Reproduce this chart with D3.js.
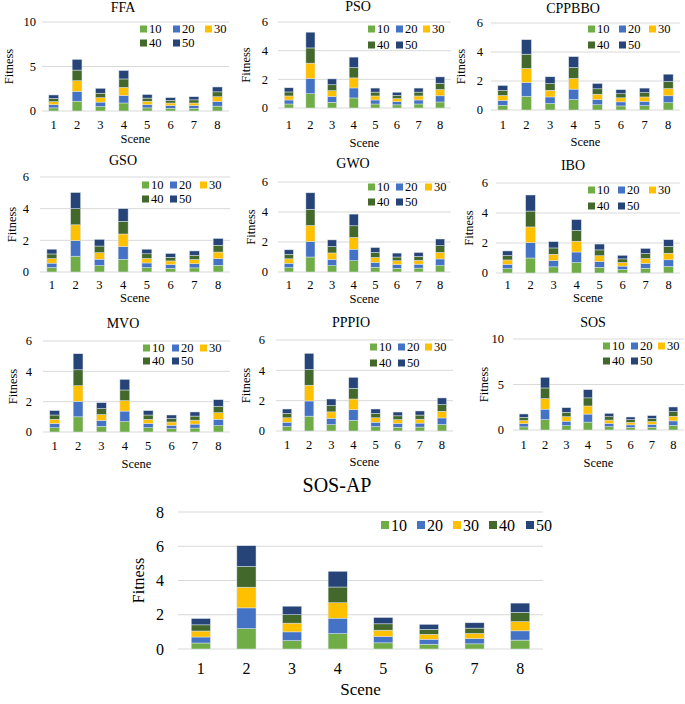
<!DOCTYPE html>
<html><head><meta charset="utf-8">
<script src="https://cdn.jsdelivr.net/npm/d3@7"></script>
<style>
body{margin:0;background:#fff}
svg{display:block}
svg text{font-family:"Liberation Serif","Times New Roman",serif;fill:#000}
</style>
</head><body>
<svg id="c" width="685" height="704" font-family="Liberation Serif, Times New Roman, serif"></svg>
<script>
const scenes = ["1","2","3","4","5","6","7","8"];
const seriesKeys = ["10","20","30","40","50"];
const seriesColors = ["#70AD47","#4472C4","#FFC000","#43682B","#264478"];

// each array: rows = series 10,20,30,40,50 ; columns = scenes 1..8
const FFA = [
  [0.35,1.10,0.50,0.90,0.35,0.30,0.30,0.55],
  [0.35,1.10,0.50,0.85,0.35,0.30,0.30,0.50],
  [0.35,1.20,0.50,0.90,0.40,0.30,0.30,0.55],
  [0.35,1.20,0.50,0.95,0.35,0.30,0.35,0.55],
  [0.40,1.20,0.55,0.95,0.40,0.30,0.35,0.55]];
const PSO = [
  [0.28,1.00,0.40,0.70,0.28,0.22,0.28,0.42],
  [0.28,1.05,0.40,0.70,0.28,0.22,0.28,0.43],
  [0.28,1.08,0.41,0.70,0.28,0.22,0.28,0.44],
  [0.28,1.06,0.41,0.72,0.27,0.22,0.27,0.44],
  [0.29,1.10,0.41,0.73,0.28,0.22,0.28,0.44]];
const CPPBBO = [
  [0.33,0.95,0.45,0.72,0.36,0.28,0.30,0.50],
  [0.33,0.95,0.45,0.72,0.36,0.28,0.30,0.48],
  [0.34,0.97,0.46,0.74,0.37,0.28,0.30,0.50],
  [0.34,0.98,0.46,0.75,0.37,0.28,0.30,0.49],
  [0.35,1.00,0.47,0.75,0.37,0.28,0.31,0.50]];
const GSO = [
  [0.28,1.00,0.40,0.80,0.28,0.23,0.26,0.42],
  [0.28,0.98,0.41,0.80,0.29,0.23,0.26,0.42],
  [0.29,1.00,0.41,0.80,0.29,0.24,0.27,0.42],
  [0.29,1.02,0.42,0.80,0.29,0.23,0.27,0.43],
  [0.30,1.02,0.42,0.80,0.29,0.24,0.27,0.43]];
const GWO = [
  [0.29,1.00,0.42,0.75,0.32,0.25,0.26,0.43],
  [0.29,1.03,0.42,0.77,0.32,0.25,0.26,0.44],
  [0.30,1.07,0.43,0.78,0.33,0.25,0.26,0.44],
  [0.30,1.08,0.43,0.78,0.33,0.25,0.26,0.44],
  [0.30,1.10,0.44,0.78,0.33,0.26,0.26,0.45]];
const IBO = [
  [0.29,1.00,0.41,0.70,0.38,0.23,0.32,0.44],
  [0.29,1.02,0.42,0.70,0.38,0.23,0.32,0.44],
  [0.29,1.05,0.42,0.72,0.39,0.24,0.33,0.44],
  [0.30,1.06,0.42,0.72,0.39,0.24,0.33,0.45],
  [0.30,1.07,0.42,0.72,0.39,0.24,0.34,0.45]];
const MVO = [
  [0.28,1.00,0.38,0.69,0.28,0.22,0.26,0.42],
  [0.28,1.02,0.38,0.69,0.28,0.22,0.26,0.42],
  [0.28,1.03,0.39,0.69,0.28,0.22,0.26,0.43],
  [0.28,1.05,0.39,0.70,0.28,0.23,0.27,0.43],
  [0.29,1.06,0.39,0.70,0.29,0.23,0.27,0.43]];
const PPPIO = [
  [0.29,0.98,0.42,0.70,0.29,0.25,0.26,0.43],
  [0.29,1.00,0.42,0.70,0.29,0.25,0.26,0.43],
  [0.29,1.04,0.42,0.71,0.29,0.25,0.26,0.44],
  [0.29,1.04,0.42,0.71,0.29,0.25,0.27,0.44],
  [0.29,1.06,0.43,0.72,0.29,0.25,0.27,0.44]];
const SOS = [
  [0.34,1.14,0.48,0.87,0.36,0.28,0.31,0.50],
  [0.35,1.15,0.49,0.88,0.36,0.28,0.31,0.50],
  [0.35,1.16,0.49,0.89,0.37,0.29,0.32,0.51],
  [0.36,1.17,0.49,0.89,0.37,0.29,0.32,0.51],
  [0.36,1.17,0.50,0.90,0.37,0.29,0.32,0.51]];
const SOSAP = [
  [0.35,1.19,0.49,0.90,0.36,0.28,0.30,0.52],
  [0.35,1.21,0.51,0.90,0.37,0.29,0.30,0.54],
  [0.35,1.21,0.51,0.90,0.37,0.29,0.31,0.54],
  [0.36,1.21,0.49,0.92,0.37,0.29,0.31,0.54],
  [0.37,1.21,0.50,0.92,0.37,0.29,0.31,0.54]];

const ticks10 = [0,5,10];
const ticks6 = [0,2,4,6];
const ticks8 = [0,2,4,6,8];

const svg = d3.select("#c");
const FONT = "Liberation Serif, Times New Roman, serif";

const panels = [
 {title:"FFA", data:FFA, yMax:10, ticks:ticks10, L:42, R:229, T:22, B:111, tX:123, tY:12, tickX:36, fitX:9, labY:129, scY:143, legX:[140,173,205], legY:[29,43]},
 {title:"PSO", data:PSO, yMax:6, ticks:ticks6, L:278, R:451, T:22, B:108, tX:358, tY:11, tickX:268, fitX:246, labY:129, scY:147, legX:[368,396,423], legY:[29,45]},
 {title:"CPPBBO", data:CPPBBO, yMax:6, ticks:ticks6, L:491, R:680, T:23, B:110, tX:573, tY:13, tickX:483, fitX:461, labY:129, scY:146, legX:[588,619,649], legY:[29,45]},
 {title:"GSO", data:GSO, yMax:6, ticks:ticks6, L:40, R:230, T:177, B:272, tX:123, tY:165, tickX:29, fitX:12, labY:289, scY:302, legX:[142,170,200], legY:[185,199]},
 {title:"GWO", data:GWO, yMax:6, ticks:ticks6, L:278, R:451, T:182, B:272, tX:353, tY:168, tickX:268, fitX:251, labY:289, scY:303, legX:[368,396,425], legY:[187,202]},
 {title:"IBO", data:IBO, yMax:6, ticks:ticks6, L:496, R:680, T:183, B:273, tX:573, tY:170, tickX:488, fitX:469, labY:289, scY:302, legX:[588,618,649], legY:[190,206]},
 {title:"MVO", data:MVO, yMax:6, ticks:ticks6, L:43, R:230, T:341, B:432, tX:123, tY:328, tickX:32, fitX:13, labY:450, scY:468, legX:[143,172,200], legY:[348,361]},
 {title:"PPPIO", data:PPPIO, yMax:6, ticks:ticks6, L:276, R:453, T:340, B:431, tX:351, tY:327, tickX:265, fitX:246, labY:449, scY:466, legX:[370,398,425], legY:[347,363]},
 {title:"SOS", data:SOS, yMax:10, ticks:ticks10, L:513, R:684, T:339, B:430, tX:593, tY:327, tickX:504, fitX:484, labY:449, scY:467, legX:[603,631,658], legY:[346,361]},
 {title:"SOS-AP", data:SOSAP, yMax:8, ticks:ticks8, L:178, R:543, T:512, B:649, tX:337, tY:492, tickX:164, fitX:138, labY:674, scY:695, legX:[381,417,453,489,526], legY:[525], big:true}
];

panels.forEach(p => {
  const big = !!p.big;
  const fs = big ? 16 : 12.5;
  const g = svg.append("g").attr("font-family", FONT);
  const x = d3.scaleBand().domain(scenes).range([p.L, p.R]).paddingInner(0.58).paddingOuter(0.29);
  const y = d3.scaleLinear().domain([0, p.yMax]).range([p.B, p.T]);

  // gridlines
  g.append("g").selectAll("line").data(p.ticks).join("line")
    .attr("x1", p.L).attr("x2", p.R)
    .attr("y1", d => y(d)).attr("y2", d => y(d))
    .attr("stroke", "#d9d9d9").attr("stroke-width", 1);

  // y tick labels
  g.append("g").selectAll("text").data(p.ticks).join("text")
    .attr("x", p.tickX).attr("y", d => y(d)).attr("dy", "0.35em")
    .attr("text-anchor", "end").attr("font-size", fs).attr("font-family", FONT)
    .text(d => d);

  // stacked bars
  const rows = scenes.map((s, i) => {
    const o = {scene: s};
    seriesKeys.forEach((k, j) => o[k] = p.data[j][i]);
    return o;
  });
  const stacked = d3.stack().keys(seriesKeys)(rows);
  g.append("g").selectAll("g").data(stacked).join("g")
    .attr("fill", (d, i) => seriesColors[i])
    .selectAll("rect").data(d => d).join("rect")
    .attr("x", d => x(d.data.scene))
    .attr("width", x.bandwidth())
    .attr("y", d => y(d[1]))
    .attr("height", d => y(d[0]) - y(d[1]))
    .attr("stroke", "#dde4ec").attr("stroke-width", 0.5);

  // x labels
  g.append("g").selectAll("text").data(scenes).join("text")
    .attr("x", d => x(d) + x.bandwidth() / 2).attr("y", p.labY)
    .attr("text-anchor", "middle").attr("font-size", fs).attr("font-family", FONT)
    .text(d => d);

  // axis titles
  g.append("text").attr("x", (p.L + p.R) / 2).attr("y", p.scY)
    .attr("text-anchor", "middle").attr("font-size", big ? 17 : 12.5).attr("font-family", FONT).text("Scene");
  g.append("text")
    .attr("transform", `translate(${p.fitX},${(p.T + p.B) / 2}) rotate(-90)`)
    .attr("text-anchor", "middle").attr("dominant-baseline", "central")
    .attr("font-size", big ? 16 : 12.5).attr("font-family", FONT).text("Fitness");

  // chart title
  g.append("text").attr("x", p.tX).attr("y", p.tY)
    .attr("text-anchor", "middle").attr("font-size", big ? 20 : 14).attr("font-family", FONT).text(p.title);

  // legend
  const sq = big ? 8 : 7;
  const items = seriesKeys.map((k, i) => {
    if (big) return {k, i, x: p.legX[i], y: p.legY[0]};
    return i < 3 ? {k, i, x: p.legX[i], y: p.legY[0]} : {k, i, x: p.legX[i - 3], y: p.legY[1]};
  });
  const lg = g.append("g").selectAll("g").data(items).join("g")
    .attr("transform", d => `translate(${d.x},${d.y})`);
  lg.append("rect").attr("x", 0).attr("y", -sq / 2).attr("width", sq).attr("height", sq)
    .attr("fill", d => seriesColors[d.i]);
  lg.append("text").attr("x", sq + 2).attr("y", 0).attr("dy", "0.35em")
    .attr("font-size", fs).attr("font-family", FONT).text(d => d.k);
});
</script>
</body></html>
